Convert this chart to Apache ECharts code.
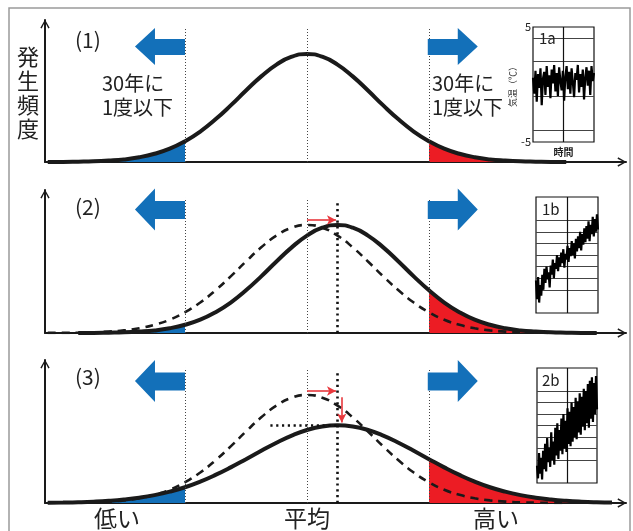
<!DOCTYPE html>
<html><head><meta charset="utf-8">
<script src="https://cdn.jsdelivr.net/npm/echarts@6.0.0/dist/echarts.min.js"></script>
<style>html,body{margin:0;padding:0;background:#fff}#c{width:633px;height:531px}</style>
</head><body><div id="c"></div><script>
// ---------- data ----------
// temperature (in standard-deviation units, mean = 0)
const xs = [-4.25,-4,-3.75,-3.5,-3.25,-3,-2.75,-2.5,-2.25,-2,-1.75,-1.5,-1.25,-1,-0.75,-0.5,-0.25,0,0.25,0.5,0.75,1,1.25,1.5,1.75,2,2.25,2.5,2.75,3,3.25,3.5,3.75,4,4.25];
// occurrence frequency of the present climate
const baseCurve = [0.001,0.001,0.003,0.006,0.013,0.024,0.044,0.076,0.123,0.192,0.282,0.395,0.524,0.662,0.793,0.902,0.975,1.0,0.975,0.902,0.793,0.662,0.524,0.395,0.282,0.192,0.123,0.076,0.044,0.024,0.013,0.006,0.003,0.001,0.001];
// panel (3): wider & lower distribution
const wideXs = [-4.25,-4,-3.75,-3.5,-3.25,-3,-2.75,-2.5,-2.25,-2,-1.75,-1.5,-1.25,-1,-0.75,-0.5,-0.25,0,0.25,0.5,0.75,1,1.25,1.5,1.75,2,2.25,2.5,2.75,3,3.25,3.5,3.75,4,4.25,4.5,4.75,5];
const wideCurve = [0.002,0.004,0.007,0.012,0.020,0.032,0.049,0.073,0.105,0.146,0.198,0.260,0.330,0.406,0.483,0.558,0.624,0.676,0.709,0.720,0.709,0.676,0.624,0.558,0.483,0.406,0.330,0.260,0.198,0.146,0.105,0.073,0.049,0.032,0.020,0.012,0.007,0.004];
const meanShift = 0.5;          // shift of the mean
const thresholds = [-2, 2];     // "once in 30 years" limits
const widePeak = 0.72;
const guideTop = [1.24, 1.25, 1.25];
const shiftGuideTop = [1.23, 1.22];
const redArrowH2 = [[0, 1.046], [0.475, 1.046]];
const redArrowH3 = [[0, 1.037], [0.475, 1.037]];
const redArrowV3 = [[0.57, 0.98], [0.57, 0.745]];
const peakGuide3 = [[-0.6, widePeak], [0.5, widePeak]];
const bigArrowX = [-2.41, 2.39];
const bigArrowY = [1.07, 1.144, 1.13];
// inset time series
const insetA = [0.6,-0.8,1.2,-1.5,0.9,-0.3,1.4,-1.8,0.5,1.1,-0.9,1.6,-0.2,0.8,-1.2,1.3,0.1,1.7,-0.6,1.0,-1.0,1.5,0.3,-0.5,1.2,-1.4,0.7,1.6,-0.4,1.1,-0.8,1.4,0.2,-1.1,1.0,0.4,1.7,-0.7,0.9,-0.2,1.3,-1.3,0.6,1.5,-0.1,1.2,-0.9,1.6,0.3,1.0];
const insetB = [2.8,1.2,3.1,0.9,2.4,1.5,3.3,2.0,3.8,2.6,4.0,2.9,3.5,2.2,4.1,3.3,4.6,3.0,4.3,3.8,5.0,3.6,4.8,4.0,5.2,4.3,5.5,3.9,5.1,4.6,5.8,4.4,5.6,4.9,6.2,5.0,6.0,4.7,6.4,5.3,6.6,5.6,7.0,5.4,6.8,5.9,7.3,6.1,7.5,6.4,7.9,6.2,7.6,6.8,8.3,6.6,8.1,7.0,8.5,7.2];
const insetC = [1.5,0.4,2.6,0.8,2.2,0.3,2.8,1.2,3.4,1.0,3.9,1.8,3.1,1.4,4.4,2.0,3.6,1.6,4.8,2.4,5.2,2.1,4.6,2.8,5.6,2.5,6.0,3.0,5.4,2.7,6.5,3.4,6.2,3.2,7.0,3.6,6.6,4.0,7.4,3.8,7.1,4.4,7.8,4.2,7.5,4.9,8.2,4.6,8.0,5.2,8.6,4.8,8.9,5.6,9.2,5.3,8.7,6.0,9.3,6.4];
const insetAGrid = [4, 2, -1, -4];
const insetBGrid = [2, 3, 4, 5, 6, 7, 8];
const insetCGrid = [2, 3, 4, 5, 6, 7, 8];
const insetNames = ['1a', '1b', '2b'];

// ---------- styles ----------
const FONT = '"Noto Sans CJK JP","Noto Sans",sans-serif';
const BLUE = '#1370b9', RED = '#ec1c24', INK = '#1a1a1a', ARROWRED = '#e8383d';
const axisArrow = 'path://M0,9L5,0L10,9L8.6,9.7L5,2.8L1.4,9.7Z';
const leftArrow = 'path://M0,18.5L20,0L20,11L50,11L50,27L20,27L20,37Z';
const rightArrow = 'path://M50,18.5L30,0L30,11L0,11L0,27L30,27L30,37Z';

const panels = [
  {top: 20, height: 142, ymax: 1.315},
  {top: 190, height: 143, ymax: 1.324},
  {top: 360, height: 143, ymax: 1.324}
];
const insetBoxes = [
  {left: 533, top: 27, width: 61, height: 115, data: insetA, min: -5, max: 5, lines: insetAGrid},
  {left: 536, top: 197, width: 62, height: 116, data: insetB, min: 0, max: 10, lines: insetBGrid},
  {left: 537, top: 368, width: 60, height: 115, data: insetC, min: 0, max: 10, lines: insetCGrid}
];

const grid = [], xAxis = [], yAxis = [], series = [];
panels.forEach((p, i) => {
  grid.push({left: 45, right: 7, top: p.top, height: p.height, containLabel: false});
  xAxis.push({type: 'value', gridIndex: i, min: -4.295, max: 5.23,
    axisLine: {show: true, onZero: false, lineStyle: {color: INK, width: 2}, symbol: ['none', axisArrow], symbolSize: [11, 9], symbolOffset: [0, -4]},
    axisTick: {show: false}, axisLabel: {show: false}, splitLine: {show: false}});
  yAxis.push({type: 'value', gridIndex: i, min: 0, max: p.ymax,
    axisLine: {show: true, onZero: false, lineStyle: {color: INK, width: 2}, symbol: ['none', axisArrow], symbolSize: [11, 9], symbolOffset: [0, -4]},
    axisTick: {show: false}, axisLabel: {show: false}, splitLine: {show: false}});
});
insetBoxes.forEach((b, k) => {
  const gi = 3 + k;
  grid.push({left: b.left, top: b.top, width: b.width, height: b.height, show: true, borderColor: '#111', borderWidth: 1.2, backgroundColor: '#fff', containLabel: false, z: 5});
  xAxis.push({type: 'value', gridIndex: gi, min: 0, max: b.data.length - 1, show: k === 0,
    name: k === 0 ? '時間' : '', nameLocation: 'middle', nameGap: 5,
    nameTextStyle: {fontFamily: FONT, fontSize: 10, color: '#222', fontWeight: 'bold'},
    axisLine: {show: false}, axisTick: {show: false}, axisLabel: {show: false}, splitLine: {show: false}, z: 5});
  yAxis.push({type: 'value', gridIndex: gi, min: b.min, max: b.max, interval: 5, show: k === 0,
    name: k === 0 ? '気温（℃）' : '', nameLocation: 'middle', nameGap: 5, nameRotate: 90,
    nameTextStyle: {fontFamily: FONT, fontSize: 9, color: '#333'},
    axisLine: {show: false}, axisTick: {show: false}, splitLine: {show: false},
    axisLabel: {show: k === 0, fontSize: 11, fontFamily: FONT, color: '#222', margin: 2, formatter: v => (v === 5 || v === -5) ? String(v) : ''}, z: 5});
  const mid = (b.data.length - 1) / 2;
  series.push({type: 'line', xAxisIndex: gi, yAxisIndex: gi, data: b.data.map((v, j) => [j, v]),
    symbol: 'none', lineStyle: {color: '#000', width: 2.2}, z: 7, silent: true,
    markLine: {silent: true, symbol: ['none', 'none'], label: {show: false}, animation: false,
      lineStyle: {color: '#444', width: 1, type: 'solid'},
      data: b.lines.map(v => ({yAxis: v})).concat([{xAxis: mid, lineStyle: {color: '#111', width: 1.2}}])}});
});

const eps = 1e-9;
function pts(xArr, yArr, shift) { return xArr.map((x, i) => [x + shift, yArr[i]]); }
function addFills(g, points) {
  series.push({type: 'line', xAxisIndex: g, yAxisIndex: g, data: points.filter(p => p[0] <= thresholds[0] + eps),
    smooth: true, symbol: 'none', lineStyle: {width: 0}, areaStyle: {color: BLUE, opacity: 1}, z: 1, silent: true});
  series.push({type: 'line', xAxisIndex: g, yAxisIndex: g, data: points.filter(p => p[0] >= thresholds[1] - eps),
    smooth: true, symbol: 'none', lineStyle: {width: 0}, areaStyle: {color: RED, opacity: 1}, z: 1, silent: true});
}
const thin = {color: '#444', width: 1, type: [1, 2]};
const bold = {color: '#111', width: 2.6, type: [2.2, 3.6]};
function vline(x, top, style) { return [{coord: [x, 0], lineStyle: style}, {coord: [x, top]}]; }
function redArrow(seg) { return [{coord: seg[0], lineStyle: {color: ARROWRED, width: 1.6, type: 'solid'}}, {coord: seg[1], symbol: 'arrow', symbolSize: [7, 9]}]; }
function solid(g, points, marks) {
  series.push({type: 'line', xAxisIndex: g, yAxisIndex: g, data: points, smooth: true, symbol: 'none',
    lineStyle: {color: INK, width: 4}, z: 4, silent: true,
    markLine: {silent: true, symbol: ['none', 'none'], label: {show: false}, animation: false, data: marks}});
}
function dashed(g, points) {
  series.push({type: 'line', xAxisIndex: g, yAxisIndex: g, data: points, smooth: true, symbol: 'none',
    lineStyle: {color: INK, width: 2.6, type: [8, 6]}, z: 3, silent: true});
}
function bigArrows(g, h) {
  series.push({type: 'scatter', xAxisIndex: g, yAxisIndex: g, silent: true, z: 6, symbolKeepAspect: false,
    itemStyle: {color: BLUE, opacity: 1},
    data: [
      {value: [bigArrowX[0], bigArrowY[g]], symbol: leftArrow, symbolSize: [50, h]},
      {value: [bigArrowX[1], bigArrowY[g]], symbol: rightArrow, symbolSize: [50, h]}
    ]});
}
const now = pts(xs, baseCurve, 0);
const warm = pts(xs, baseCurve, meanShift);
const wide = pts(wideXs, wideCurve, 0);

// panel 1
addFills(0, now);
solid(0, now, [vline(thresholds[0], guideTop[0], thin), vline(0, guideTop[0], thin), vline(thresholds[1], guideTop[0], thin)]);
bigArrows(0, 37);
// panel 2
addFills(1, warm);
dashed(1, now);
solid(1, warm, [vline(thresholds[0], guideTop[1], thin), vline(0, guideTop[1], thin), vline(thresholds[1], guideTop[1], thin),
  vline(meanShift, shiftGuideTop[0], bold), redArrow(redArrowH2)]);
bigArrows(1, 42);
// panel 3
addFills(2, wide);
dashed(2, now);
solid(2, wide, [vline(thresholds[0], guideTop[2], thin), vline(0, guideTop[2], thin), vline(thresholds[1], guideTop[2], thin),
  vline(meanShift, shiftGuideTop[1], bold), [{coord: peakGuide3[0], lineStyle: bold}, {coord: peakGuide3[1]}],
  redArrow(redArrowH3), redArrow(redArrowV3)]);
bigArrows(2, 42);

function txt(text, x, y, size, align, extra) {
  return Object.assign({type: 'text', x: x, y: y, z: 10, silent: true,
    style: Object.assign({text: text, font: size + 'px ' + FONT, fill: '#222', textAlign: align, textVerticalAlign: 'middle'}, extra || {})});
}
const graphic = [
  {type: 'rect', shape: {x: 9, y: 8, width: 621, height: 540}, style: {fill: 'none', stroke: '#9a9a9a', lineWidth: 1.5}, z: -10, silent: true},
  txt('(1)', 75, 40, 21, 'left'),
  txt('(2)', 75, 207, 21, 'left'),
  txt('(3)', 75, 377, 21, 'left'),
  txt('30年に\n1度以下', 102, 71, 20, 'left', {lineHeight: 24, textVerticalAlign: 'top'}),
  txt('30年に\n1度以下', 432, 71, 20, 'left', {lineHeight: 24, textVerticalAlign: 'top'}),
  txt('発\n生\n頻\n度', 28, 45, 22, 'center', {lineHeight: 24, textVerticalAlign: 'top'}),
  txt('低い', 117, 518, 23, 'center'),
  txt('平均', 307, 518, 23, 'center'),
  txt('高い', 496, 518, 23, 'center'),
  txt(insetNames[0], 539, 38, 15, 'left'),
  txt(insetNames[1], 542, 209, 15, 'left'),
  txt(insetNames[2], 542, 380, 15, 'left')
];

const chart = echarts.init(document.getElementById('c'), null, {renderer: 'canvas'});
chart.setOption({animation: false, backgroundColor: '#fff', grid, xAxis, yAxis, series, graphic, tooltip: {show: false}});
</script></body></html>
